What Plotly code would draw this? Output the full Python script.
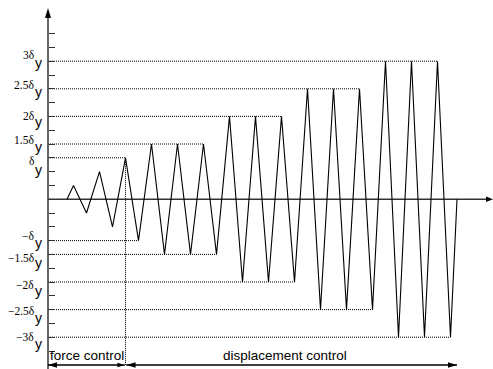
import plotly.graph_objects as go

# ---------------- data (drawing units: one y tick = one unit, one x unit = half cycle)
force_amplitudes = [1, 2, 3]
disp_amplitudes = [4, 4, 4, 6, 6, 6, 8, 8, 8, 10, 10, 10]
level_values = [3, 4, 6, 8, 10]
pos_labels = ["δ", "1.5δ", "2δ", "2.5δ", "3δ"]
neg_labels = ["−δ", "−1.5δ", "−2δ", "−2.5δ", "−3δ"]
tick_values = [v for v in range(-11, 13) if v != 0]
phase_labels = ["force control", "displacement control"]

# ---------------- layout constants (pixels)
W, H = 493, 369
PX_X0, PX_PER_T = 67.0, 13.0
PX_Y0, PX_PER_U = 199.2, 13.8
xr = [-PX_X0 / PX_PER_T, (W - PX_X0) / PX_PER_T]
yr = [-(H - PX_Y0) / PX_PER_U, PX_Y0 / PX_PER_U]
axis_t = (48.0 - PX_X0) / PX_PER_T
arrow_y = (PX_Y0 - 365.0) / PX_PER_U
y_tip = (PX_Y0 - 8.0) / PX_PER_U

# label offsets (pixels, up positive): main text, subscript y
pos_off = [(-3.4, -12.0), (4.5, -3.2), (0.7, -5.8), (4.0, -2.9), (6.4, -1.8)]
neg_off = [(5.0, -2.7), (-4.0, -8.7), (-2.5, -9.2), (-1.0, -8.2), (0.7, -6.5)]

# ---------------- signal
amps = force_amplitudes + disp_amplitudes
ts, vs = [0.0], [0.0]
for k, a in enumerate(amps):
    ts += [2 * k + 0.5, 2 * k + 1.5]
    vs += [a, -a]
ts.append(2.0 * len(amps))
vs.append(0.0)
t_b = 2 * (len(force_amplitudes) - 1) + 0.5
t_end = ts[-1]

AX = "#333333"
fig = go.Figure()

# dotted guide lines
dx, dy = [], []
for lev in level_values:
    for sgn in (1, -1):
        last = max(t for t, v in zip(ts, vs) if v == sgn * lev)
        dx += [axis_t, last, None]
        dy += [sgn * lev, sgn * lev, None]
dx += [t_b, t_b, None]
dy += [force_amplitudes[-1], arrow_y, None]
fig.add_trace(go.Scatter(x=dx, y=dy, mode="lines",
                         line=dict(color="black", width=1, dash="1px,1px"),
                         hoverinfo="skip", showlegend=False))

# axes lines
fig.add_trace(go.Scatter(x=[axis_t, axis_t], y=[yr[0], y_tip - 0.3], mode="lines",
                         line=dict(color=AX, width=1.5), showlegend=False))
fig.add_trace(go.Scatter(x=[axis_t, xr[1] - 0.3], y=[0, 0], mode="lines",
                         line=dict(color=AX, width=1.5), showlegend=False))

# signal
fig.add_trace(go.Scatter(x=ts, y=vs, mode="lines",
                         line=dict(color="black", width=1.1), showlegend=False))

# bottom phase arrows
fig.add_trace(go.Scatter(x=[axis_t, t_b - 0.05, None, t_b + 0.05, t_end],
                         y=[arrow_y, arrow_y, None, arrow_y, arrow_y], mode="lines",
                         line=dict(color="black", width=1.3), showlegend=False))


def head(xa, ya, direction, length=9, half=2.75):
    if direction == "up":
        p = f"M0,0 L{-half},{-length} L{half},{-length} Z"
    elif direction == "right":
        p = f"M0,0 L{-length},{half} L{-length},{-half} Z"
    else:
        p = f"M0,0 L{length},{half} L{length},{-half} Z"
    return dict(type="path", xref="x", yref="y", xsizemode="pixel", ysizemode="pixel",
                xanchor=xa, yanchor=ya, path=p, fillcolor="black", line=dict(width=0))


shapes = [
    head(axis_t, y_tip, "up", 10, 3),
    head(xr[1], 0, "right", 7, 2.75),
    head(axis_t, arrow_y, "left"),
    head(t_b - 0.08, arrow_y, "right", 7, 2.2),
    head(t_b + 0.08, arrow_y, "left"),
    head(t_end, arrow_y, "right"),
]

ann = []
for lev, lab, off in zip(level_values + [-v for v in level_values],
                         pos_labels + neg_labels, pos_off + neg_off):
    ann.append(dict(x=axis_t, y=lev, text=lab, showarrow=False, xanchor="right",
                    yanchor="middle", xshift=-14, yshift=off[0], borderpad=0, borderwidth=0,
                    font=dict(family="Liberation Serif", size=11.5, color="black")))
    ann.append(dict(x=axis_t, y=lev, text="y", showarrow=False, xanchor="center",
                    yanchor="middle", xshift=-10, yshift=off[1], borderpad=0, borderwidth=0,
                    font=dict(family="Liberation Sans", size=14, color="black")))

ann.append(dict(x=(axis_t + t_b) / 2, y=arrow_y, text=phase_labels[0], showarrow=False,
                xanchor="center", yanchor="bottom", yshift=2, borderpad=0, borderwidth=0,
                font=dict(family="Liberation Sans", size=13.5, color="black")))
ann.append(dict(x=(t_b + t_end) / 2, y=arrow_y, text=phase_labels[1], showarrow=False,
                xanchor="center", yanchor="bottom", xshift=-6, yshift=2, borderpad=0,
                borderwidth=0,
                font=dict(family="Liberation Sans", size=13.5, color="black")))

fig.update_layout(
    width=W, height=H, margin=dict(l=0, r=0, t=0, b=0),
    paper_bgcolor="white", plot_bgcolor="white",
    xaxis=dict(range=xr, visible=False, fixedrange=True),
    yaxis=dict(range=yr, anchor="free", position=(axis_t - xr[0]) / (xr[1] - xr[0]),
               tickvals=tick_values, ticks="inside", ticklen=6, tickwidth=1, tickcolor=AX,
               showticklabels=False, showgrid=False, zeroline=False, showline=False,
               fixedrange=True),
    shapes=shapes, annotations=ann, showlegend=False,
)

fig.write_html("out.html")
